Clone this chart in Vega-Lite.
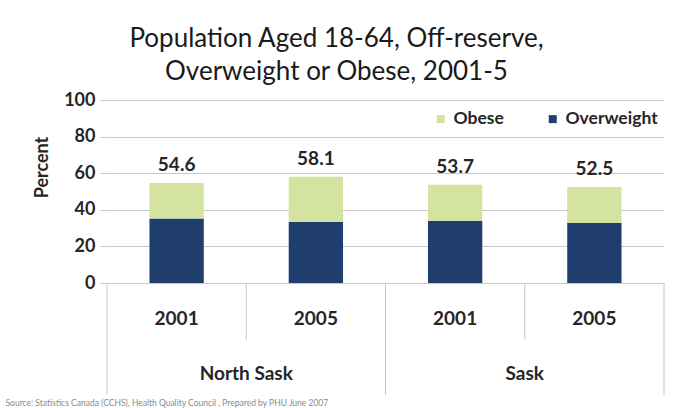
{
  "$schema": "https://vega.github.io/schema/vega-lite/v6.json",
  "width": 557,
  "height": 183,
  "autosize": "none",
  "padding": {"left": 107, "top": 100, "right": 10, "bottom": 125},
  "background": "white",
  "config": {
    "font": "Lato",
    "view": {"stroke": null},
    "axis": {"gridColor": "#c8c8c8", "domainColor": "#c8c8c8", "tickColor": "#c8c8c8"},
    "axisY": {
      "domain": false,
      "tickSize": 7,
      "values": [0, 20, 40, 60, 80, 100],
      "labelOverlap": false,
      "labelFontSize": 18,
      "labelFontWeight": "bold",
      "labelColor": "#262626",
      "labelPadding": 5,
      "titleFontSize": 18,
      "titleFontWeight": "bold",
      "titleColor": "#262626",
      "titleX": -56,
      "titleY": 67,
      "titleAnchor": "middle"
    }
  },
  "title": {
    "text": ["Population Aged 18-64, Off-reserve,", "Overweight or Obese, 2001-5"],
    "fontSize": 26,
    "fontWeight": "normal",
    "color": "#1a1a1a",
    "lineHeight": 33,
    "anchor": "middle",
    "dx": -49,
    "offset": 6
  },
  "data": {
    "values": [
      {"region": "North Sask", "year": "2001", "key": "North Sask|2001", "category": "Overweight", "value": 35.2},
      {"region": "North Sask", "year": "2001", "key": "North Sask|2001", "category": "Obese", "value": 19.4},
      {"region": "North Sask", "year": "2005", "key": "North Sask|2005", "category": "Overweight", "value": 33.4},
      {"region": "North Sask", "year": "2005", "key": "North Sask|2005", "category": "Obese", "value": 24.7},
      {"region": "Sask", "year": "2001", "key": "Sask|2001", "category": "Overweight", "value": 33.9},
      {"region": "Sask", "year": "2001", "key": "Sask|2001", "category": "Obese", "value": 19.8},
      {"region": "Sask", "year": "2005", "key": "Sask|2005", "category": "Overweight", "value": 32.8},
      {"region": "Sask", "year": "2005", "key": "Sask|2005", "category": "Obese", "value": 19.7}
    ]
  },
  "encoding": {
    "x": {
      "field": "key",
      "type": "nominal",
      "sort": null,
      "scale": {"paddingInner": 0, "paddingOuter": 0},
      "axis": {
        "labelExpr": "split(datum.value, '|')[1]",
        "labelAngle": 0,
        "labelFontSize": 19,
        "labelFontWeight": "bold",
        "labelColor": "#262626",
        "labelPadding": 26,
        "ticks": false,
        "title": "Source: Statistics Canada (CCHS), Health Quality Council , Prepared by PHU June 2007",
        "titleFontSize": 8.5,
        "titleFontWeight": "normal",
        "titleColor": "#8a8a8a",
        "titleAnchor": "start",
        "titleAlign": "left",
        "titleBaseline": "middle",
        "titleX": -102,
        "titleY": 119
      }
    }
  },
  "layer": [
    {
      "mark": {"type": "bar", "width": {"band": 0.39}},
      "encoding": {
        "y": {
          "field": "value",
          "type": "quantitative",
          "stack": "zero",
          "scale": {"domain": [0, 100]},
          "axis": {"values": [0, 20, 40, 60, 80, 100], "title": "Percent"}
        },
        "color": {
          "field": "category",
          "type": "nominal",
          "scale": {"domain": ["Obese", "Overweight"], "range": ["#d4e39f", "#1f3e6e"]},
          "legend": {
            "title": null,
            "orient": "none",
            "direction": "horizontal",
            "legendX": 325,
            "legendY": 10,
            "symbolType": "square",
            "symbolSize": 64,
            "symbolStrokeWidth": 0,
            "labelFontSize": 17.5,
            "labelFontWeight": "bold",
            "labelColor": "#262626",
            "labelOffset": 4,
            "columnPadding": 40
          }
        },
        "order": {"field": "category", "sort": "descending"}
      }
    },
    {
      "mark": {"type": "text", "fontSize": 19, "fontWeight": "bold", "color": "#262626", "baseline": "bottom", "dy": -8},
      "encoding": {
        "y": {"aggregate": "sum", "field": "value", "type": "quantitative", "axis": {"values": [0, 20, 40, 60, 80, 100], "title": "Percent"}},
        "text": {"aggregate": "sum", "field": "value", "type": "quantitative", "format": ".1f"}
      }
    },
    {
      "transform": [{"filter": "datum.year == '2005' && datum.category == 'Obese'"}],
      "mark": {"type": "rule", "color": "#c8c8c8"},
      "encoding": {
        "x": {"field": "key", "type": "nominal", "sort": null, "bandPosition": 0},
        "y": {"datum": 0, "axis": {"values": [0, 20, 40, 60, 80, 100], "title": "Percent"}},
        "y2": {"datum": -31}
      }
    },
    {
      "transform": [{"filter": "datum.year == '2001' && datum.category == 'Obese'"}],
      "mark": {"type": "rule", "color": "#c8c8c8"},
      "encoding": {
        "x": {"field": "key", "type": "nominal", "sort": null, "bandPosition": 0},
        "y": {"datum": 0, "axis": {"values": [0, 20, 40, 60, 80, 100], "title": "Percent"}},
        "y2": {"datum": -61}
      }
    },
    {
      "transform": [{"filter": "datum.key == 'Sask|2005' && datum.category == 'Obese'"}],
      "mark": {"type": "rule", "color": "#c8c8c8"},
      "encoding": {
        "x": {"field": "key", "type": "nominal", "sort": null, "bandPosition": 1},
        "y": {"datum": 0, "axis": {"values": [0, 20, 40, 60, 80, 100], "title": "Percent"}},
        "y2": {"datum": -61}
      }
    },
    {
      "transform": [{"filter": "datum.year == '2001' && datum.category == 'Obese'"}],
      "mark": {"type": "text", "fontSize": 19, "fontWeight": "bold", "color": "#262626", "baseline": "middle"},
      "encoding": {
        "x": {"field": "key", "type": "nominal", "sort": null, "bandPosition": 1},
        "y": {"datum": -49.5, "axis": {"values": [0, 20, 40, 60, 80, 100], "title": "Percent"}},
        "text": {"field": "region"}
      }
    }
  ]
}
